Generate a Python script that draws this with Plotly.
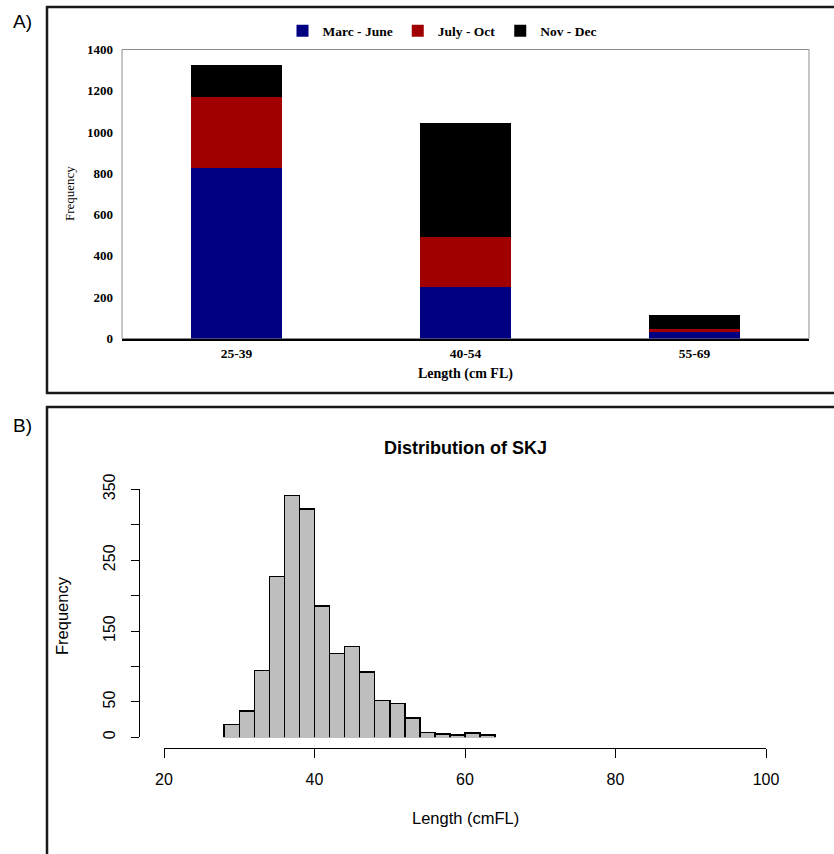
import plotly.graph_objects as go

# ---------------- Data ----------------
# Panel A: stacked frequency by length class and season
length_classes = ["25-39", "40-54", "55-69"]
marc_june = [825, 250, 38]
july_oct = [343, 241, 7]
nov_dec = [156, 554, 68]
season_names = ["Marc - June", "July - Oct", "Nov - Dec"]
season_colors = ["#000080", "#a00000", "#000000"]
panel_a_yticks = [0, 200, 400, 600, 800, 1000, 1200, 1400]

# Panel B: histogram of SKJ lengths (2 cm bins)
bin_start = [28, 30, 32, 34, 36, 38, 40, 42, 44, 46, 48, 50, 52, 54, 56, 58, 60, 62]
bin_counts = [18, 37, 94, 227, 341, 322, 185, 118, 128, 92, 52, 48, 27, 7, 5, 3, 6, 3]
bin_width = 2
panel_b_xticks = [20, 40, 60, 80, 100]
panel_b_yticks = [0, 50, 100, 150, 200, 250, 300, 350]
panel_b_ylabels = ["0", "50", "", "150", "", "250", "", "350"]

W, H = 834, 854


def fx(px):
    return px / W


def fy(py):
    return 1 - py / H


SERIF = "Liberation Serif"
SANS = "Liberation Sans"

fig = go.Figure()

for name, vals, col in zip(season_names, [marc_june, july_oct, nov_dec], season_colors):
    fig.add_trace(go.Bar(
        x=length_classes, y=vals, name=name,
        marker=dict(color=col, line=dict(width=0)),
        xaxis="x", yaxis="y",
    ))

fig.add_trace(go.Bar(
    x=bin_start, y=bin_counts, width=bin_width, offset=0,
    marker=dict(color="#bebebe", line=dict(color="#000000", width=1.5)),
    xaxis="x2", yaxis="y2", showlegend=False,
))

fig.update_layout(
    width=W, height=H,
    margin=dict(l=0, r=0, t=0, b=0, pad=0, autoexpand=False),
    paper_bgcolor="white", plot_bgcolor="white",
    barmode="stack", bargap=0.6,
    font=dict(family=SANS, color="#000"),
    legend=dict(
        orientation="h", x=fx(442), xanchor="center", y=fy(31), yanchor="middle",
        font=dict(family=SERIF, size=13.5, weight="bold"),
        itemwidth=30, tracegroupgap=0, traceorder="normal",
        bgcolor="rgba(0,0,0,0)",
    ),
    xaxis=dict(
        domain=[fx(122), fx(809)], anchor="y", type="category", automargin=False,
        showline=True, linecolor="#000", linewidth=1.5,
        ticks="", showgrid=False, zeroline=False, ticklabelstandoff=2,
        tickfont=dict(family=SERIF, size=13.5, weight="bold"),
    ),
    yaxis=dict(
        domain=[fy(338.5), fy(49.5)], anchor="x", range=[0, 1400], automargin=False,
        tickvals=panel_a_yticks, ticks="", showgrid=False, zeroline=False,
        showline=False, ticklabelstandoff=8,
        tickfont=dict(family=SERIF, size=13, weight="bold"),
    ),
    xaxis2=dict(
        domain=[fx(164), fx(766)], anchor="free", position=fy(747.5), range=[20, 100],
        automargin=False,
        showline=True, linecolor="#000", linewidth=1,
        ticks="outside", ticklen=9, tickcolor="#000", tickwidth=1,
        tickvals=panel_b_xticks, showgrid=False, zeroline=False,
        ticklabelstandoff=8,
        tickfont=dict(family=SANS, size=16),
    ),
    yaxis2=dict(
        domain=[fy(737.3), fy(489.3)], anchor="free", position=fx(139), range=[0, 350],
        automargin=False,
        showline=True, linecolor="#000", linewidth=1,
        ticks="outside", ticklen=8, tickcolor="#000", tickwidth=1,
        tickvals=panel_b_yticks, ticktext=panel_b_ylabels, tickangle=-90,
        showgrid=False, zeroline=False, ticklabelstandoff=10,
        tickfont=dict(family=SANS, size=16),
    ),
)

shapes = [
    # panel A plot border
    dict(type="rect", xref="x domain", yref="y domain", x0=0, x1=1, y0=0, y1=1,
         line=dict(color="#8c8c8c", width=1), layer="below"),
    # panel boxes
    dict(type="rect", xref="paper", yref="paper", x0=fx(47), x1=fx(840), y0=fy(393), y1=fy(7),
         line=dict(color="#1a1a1a", width=2.5)),
    dict(type="rect", xref="paper", yref="paper", x0=fx(47), x1=fx(840), y0=fy(870), y1=fy(407),
         line=dict(color="#1a1a1a", width=2.5)),
]
fig.update_layout(shapes=shapes)

annotations = [
    dict(text="A)", x=fx(22), y=fy(21), font=dict(family=SANS, size=19)),
    dict(text="B)", x=fx(22), y=fy(425), font=dict(family=SANS, size=19)),
    dict(text="Frequency", x=fx(69), y=fy(194), textangle=-90,
         font=dict(family=SERIF, size=13)),
    dict(text="Length (cm FL)", x=fx(465), y=fy(374),
         font=dict(family=SERIF, size=14, weight="bold")),
    dict(text="Distribution of SKJ", x=fx(465), y=fy(448),
         font=dict(family=SANS, size=18, weight="bold")),
    dict(text="Frequency", x=fx(62), y=fy(616), textangle=-90,
         font=dict(family=SANS, size=16.5)),
    dict(text="Length (cmFL)", x=fx(465), y=fy(818),
         font=dict(family=SANS, size=16.5)),
]
for a in annotations:
    a.update(xref="paper", yref="paper", showarrow=False, xanchor="center", yanchor="middle")
fig.update_layout(annotations=annotations)

fig.write_html("out.html", config={"displayModeBar": False},
               post_script="document.body.style.margin='0';")
